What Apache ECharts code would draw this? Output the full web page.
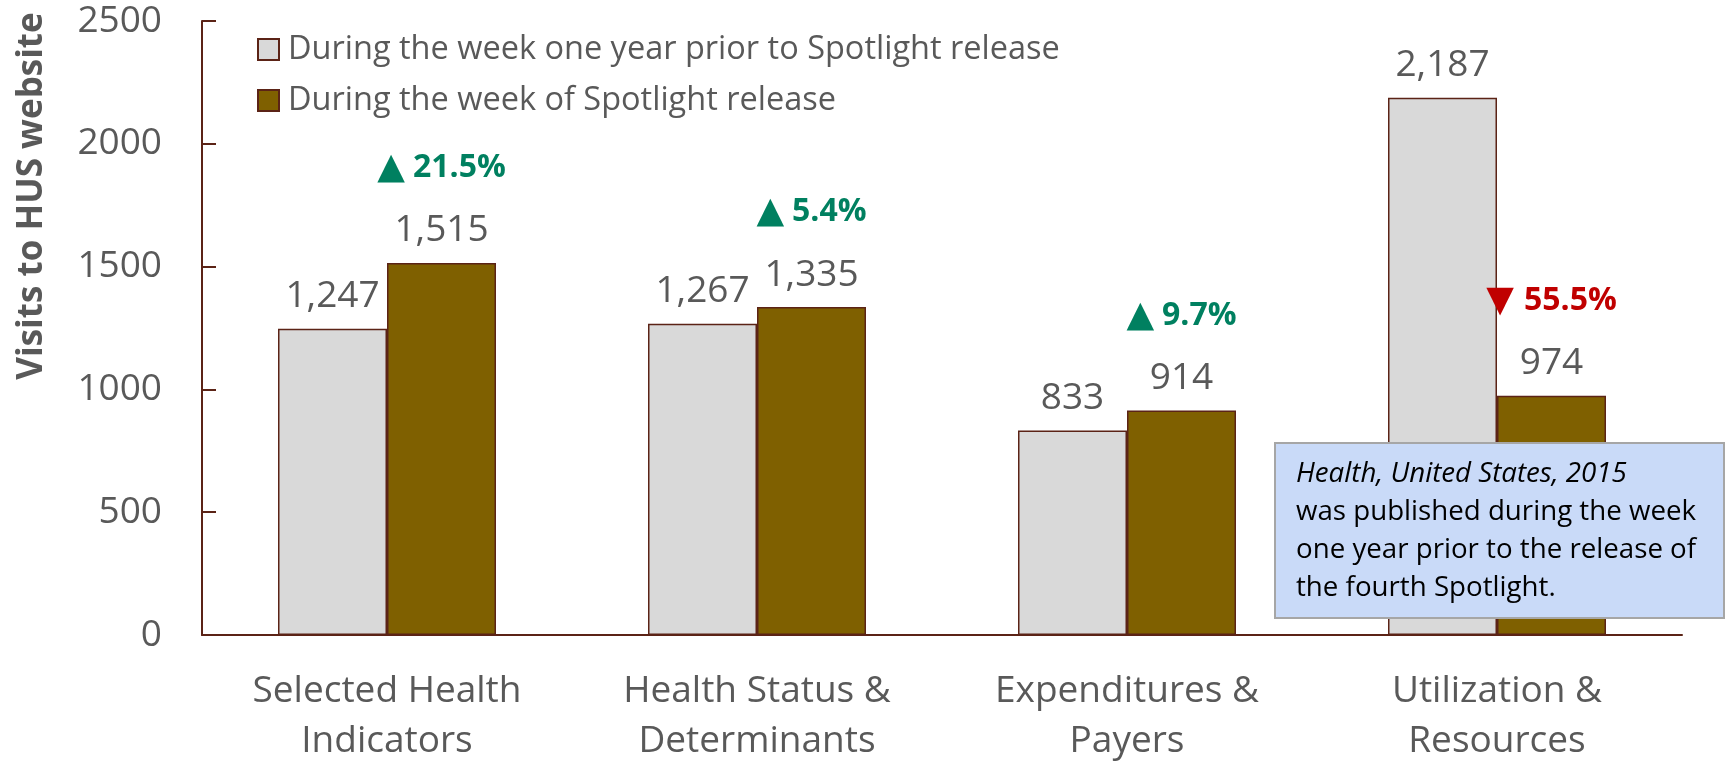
<!DOCTYPE html>
<html>
<head>
<meta charset="utf-8">
<script src="https://cdn.jsdelivr.net/npm/echarts@6/dist/echarts.min.js"></script>
<style>
  html, body { margin: 0; padding: 0; background: #fff; }
  #main { width: 1729px; height: 761px; }
</style>
</head>
<body>
<div id="main"></div>
<script>
var categories = [
  'Selected Health\nIndicators',
  'Health Status &\nDeterminants',
  'Expenditures &\nPayers',
  'Utilization &\nResources'
];
var seriesNames = [
  'During the week one year prior to Spotlight release',
  'During the week of Spotlight release'
];
var priorYear = [1247, 1267, 833, 2187];
var spotlightWeek = [1515, 1335, 914, 974];
var pctChange = [21.5, 5.4, 9.7, -55.5];
var yTicks = { min: 0, max: 2500, interval: 500 };

var FONT = '"Open Sans", "DejaVu Sans", sans-serif';
var GRAY_TEXT = '#595959';
var BORDER = '#5b2316';

var chart = echarts.init(document.getElementById('main'));

function fmt(v) { return v.toLocaleString('en-US'); }

var option = {
  animation: false,
  textStyle: { fontFamily: FONT },
  grid: { left: 202, right: 47, top: 21, bottom: 126, containLabel: false, outerBoundsMode: 'none' },
  legend: {
    orient: 'vertical',
    left: 252,
    top: 28,
    itemWidth: 21,
    itemHeight: 21,
    itemGap: 18,
    icon: 'rect',
    data: seriesNames,
    textStyle: { fontSize: 32.5, lineHeight: 32, color: GRAY_TEXT, padding: [0, 0, 0, 4] }
  },
  xAxis: {
    type: 'category',
    data: categories,
    axisLine: { lineStyle: { color: BORDER, width: 2 } },
    axisTick: { show: false },
    axisLabel: { fontSize: 37, lineHeight: 50, color: GRAY_TEXT, margin: 31, interval: 0 }
  },
  yAxis: {
    type: 'value',
    min: yTicks.min,
    max: yTicks.max,
    interval: yTicks.interval,
    splitLine: { show: false },
    axisLine: { show: true, lineStyle: { color: BORDER, width: 2 } },
    axisTick: { show: true, inside: true, length: 14, lineStyle: { color: BORDER, width: 2 } },
    axisLabel: { fontSize: 37, color: GRAY_TEXT, margin: 40, formatter: function (v) { return String(v); } }
  },
  series: [
    {
      name: seriesNames[0],
      type: 'bar',
      data: priorYear,
      barWidth: 109,
      barGap: '0%',
      itemStyle: { color: '#d9d9d9', borderColor: BORDER, borderWidth: 1.5 },
      label: {
        show: true,
        position: 'top',
        distance: 12,
        fontSize: 37,
        lineHeight: 40,
        color: GRAY_TEXT,
        formatter: function (p) { return fmt(p.value); }
      }
    },
    {
      name: seriesNames[1],
      type: 'bar',
      data: spotlightWeek,
      barWidth: 109,
      barGap: '0%',
      itemStyle: { color: '#7f6000', borderColor: BORDER, borderWidth: 1.5 },
      label: {
        show: true,
        position: 'top',
        distance: 12,
        formatter: function (p) {
          var c = pctChange[p.dataIndex];
          var pct = Math.abs(c).toFixed(1) + '%';
          var line = c >= 0 ? '{upT|▲}{up|' + pct + '}' : '{dnT|▼}{dn|' + pct + '}';
          return line + '\n{v|' + fmt(p.value) + '}';
        },
        rich: {
          v: { fontSize: 37, lineHeight: 40, color: GRAY_TEXT },
          upT: { fontSize: 36, lineHeight: 86, color: '#008060', padding: [0, 8, 0, 0] },
          up: { fontSize: 32, lineHeight: 86, fontWeight: 'bold', color: '#008060' },
          dnT: { fontSize: 36, lineHeight: 86, color: '#c00000', padding: [0, 10, 0, 0] },
          dn: { fontSize: 32, lineHeight: 86, fontWeight: 'bold', color: '#c00000' }
        }
      }
    }
  ],
  graphic: [
    {
      type: 'text',
      x: 32,
      y: 196,
      rotation: Math.PI / 2,
      style: {
        text: 'Visits to HUS website',
        fontFamily: FONT,
        fontSize: 35,
        fontWeight: 'bold',
        fill: GRAY_TEXT,
        align: 'center',
        verticalAlign: 'middle'
      }
    },
    {
      type: 'group',
      left: 1274,
      top: 442,
      z: 100,
      children: [
        {
          type: 'rect',
          z: 100,
          shape: { x: 0, y: 0, width: 449, height: 175 },
          style: { fill: '#c9daf8', stroke: '#a6a6a6', lineWidth: 2 }
        },
        {
          type: 'text',
          z: 101,
          x: 21,
          y: 12,
          style: {
            text: '{i|Health, United States, 2015}\nwas published during the week\none year prior to the release of\nthe fourth Spotlight.',
            fontFamily: FONT,
            fontSize: 27.7,
            lineHeight: 38,
            fill: '#000',
            rich: {
              i: { fontStyle: 'italic', fontFamily: FONT, fontSize: 27.7, lineHeight: 38, fill: '#000' }
            }
          }
        }
      ]
    }
  ]
};

chart.setOption(option);
</script>
</body>
</html>
